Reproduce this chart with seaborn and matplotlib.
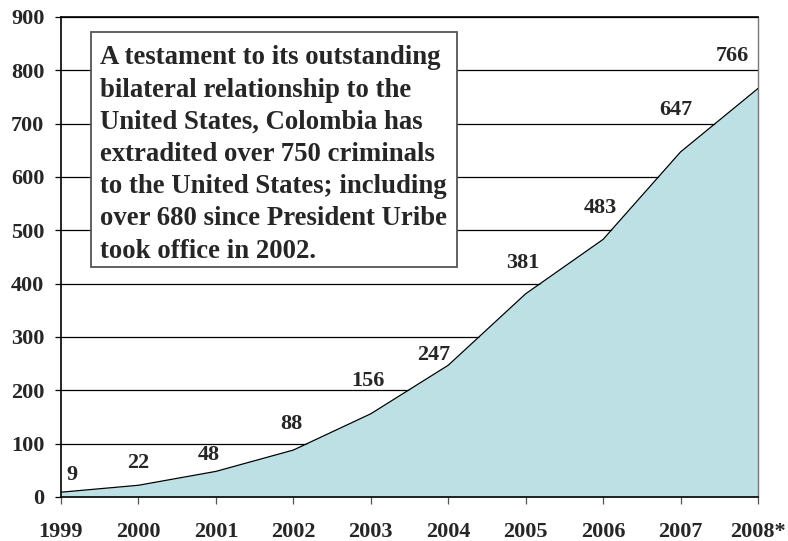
import matplotlib
matplotlib.use('Agg')
import matplotlib.pyplot as plt
from matplotlib.patches import Rectangle
import seaborn as sns
import pandas as pd

# Data
years = ['1999', '2000', '2001', '2002', '2003', '2004', '2005', '2006', '2007', '2008*']
extraditions = [9, 22, 48, 88, 156, 247, 381, 483, 647, 766]

note = ("A testament to its outstanding\n"
        "bilateral relationship to the\n"
        "United States, Colombia has\n"
        "extradited over 750 criminals\n"
        "to the United States; including\n"
        "over 680 since President Uribe\n"
        "took office in 2002.")

# label offsets (pixels) relative to each data point
label_offsets = [(11, 17), (0, 22), (-7, 16), (-2, 26), (-3, 33),
                 (-15, 10), (-3, 31), (-3, 31), (-5, 42), (-26, 32)]

sns.set_style('white')
SERIF = 'Liberation Serif'
plt.rcParams['font.family'] = SERIF

df = pd.DataFrame({'x': range(len(years)), 'value': extraditions})

fig = plt.figure(figsize=(7.88, 5.41), dpi=100)
ax = fig.add_axes([61 / 788, 44 / 541, 697 / 788, 480 / 541])

fill_color = '#bce0e3'
ax.fill_between(df['x'], df['value'], 0, color=fill_color, zorder=2, linewidth=0)
sns.lineplot(data=df, x='x', y='value', color='black', linewidth=0.9, ax=ax, zorder=3)

ax.set_xlim(0, len(years) - 1)
ax.set_ylim(0, 900)
ax.set_yticks(range(0, 901, 100))
ax.set_xticks(range(len(years)))
ax.set_xticklabels(years)
ax.set_xlabel('')
ax.set_ylabel('')

ax.yaxis.grid(True, color='black', linewidth=0.9, zorder=1)
ax.set_axisbelow(True)

for lbl in ax.get_xticklabels() + ax.get_yticklabels():
    lbl.set_family(SERIF)
    lbl.set_fontweight('bold')
    lbl.set_fontsize(16)

ax.tick_params(axis='x', direction='out', length=5, width=0.9, color='#555555', pad=13, bottom=True)
ax.tick_params(axis='y', direction='out', length=4, width=0.9, color='black', pad=8, left=True)

for side in ['left', 'bottom', 'top']:
    ax.spines[side].set_color('black')
    ax.spines[side].set_linewidth(1.2)
ax.spines['right'].set_color('#777777')
ax.spines['right'].set_linewidth(1.0)

for i, (val, off) in enumerate(zip(extraditions, label_offsets)):
    ax.annotate(str(val), xy=(i, val), xytext=off, textcoords='offset pixels',
                ha='center', va='center', family=SERIF, fontsize=16,
                fontweight='bold', zorder=5)

# text box
box = Rectangle((0.043, 0.479), 0.525, 0.49, transform=ax.transAxes,
                facecolor='white', edgecolor='#555555', linewidth=1.3, zorder=6)
ax.add_patch(box)
ax.text(0.056, 0.941, note, transform=ax.transAxes, ha='left', va='top',
        family=SERIF, fontsize=19.3, fontweight='bold', linespacing=1.38, zorder=7)

fig.savefig('out.png', dpi=100)
plt.close(fig)
